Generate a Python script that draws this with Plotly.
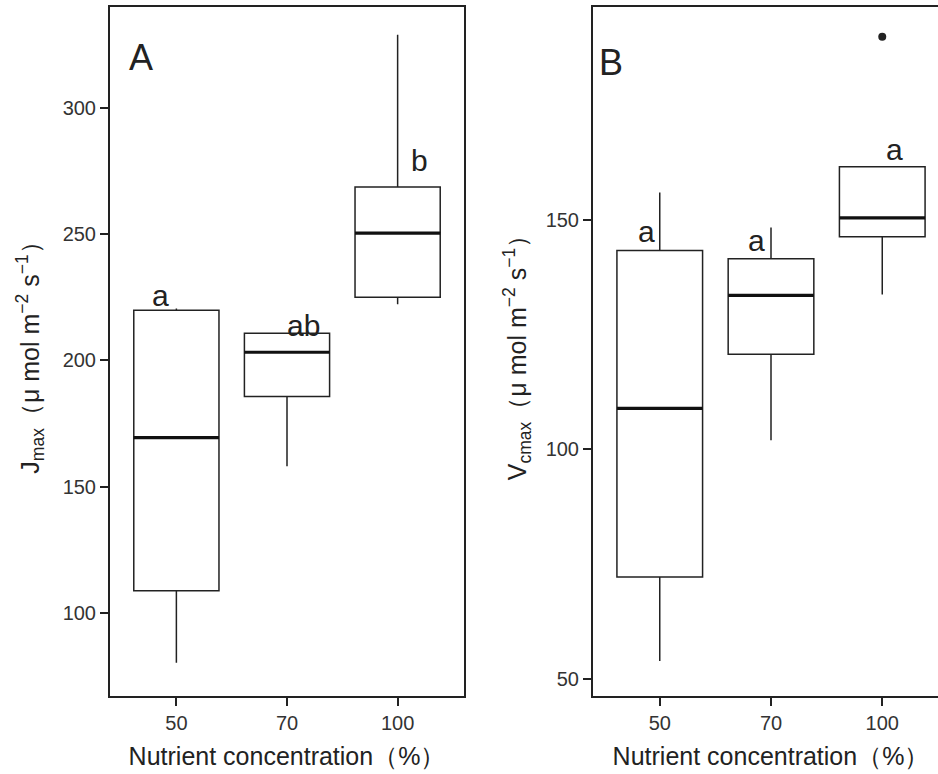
import plotly.graph_objects as go

# ---- data ----
categories = ["50", "70", "100"]
positions = [0, 1, 2]

# Panel A: Jmax
jmax_lower = [80.2, 158.0, 222.2]
jmax_q1 = [108.7, 185.7, 225.0]
jmax_median = [169.4, 203.2, 250.4]
jmax_q3 = [219.8, 210.7, 268.7]
jmax_upper = [220.5, 211.0, 329.0]
jmax_letters = ["a", "ab", "b"]
jmax_letter_x = [-0.14, 1.15, 2.2]
jmax_letter_y = [225.8, 213.9, 279.0]

# Panel B: Vcmax
vc_lower = [53.9, 102.0, 133.7]
vc_q1 = [72.2, 120.7, 146.3]
vc_median = [108.9, 133.5, 150.4]
vc_q3 = [143.3, 141.5, 161.5]
vc_upper = [155.9, 148.3, 161.5]
vc_outlier_x = [2]
vc_outlier_y = [189.8]
vc_letters = ["a", "a", "a"]
vc_letter_x = [-0.12, 0.87, 2.11]
vc_letter_y = [147.4, 145.4, 165.2]

BOX_W = 0.77
INK = "#222222"
FONT = "Arial, Liberation Sans, sans-serif"
W, H = 960, 774   # canvas slightly wider than the window: panel B is cut off at the right

fig = go.Figure()

def add_box(xa, ya, lo, q1, med, q3, up):
    fig.add_trace(go.Box(
        x=positions, lowerfence=lo, q1=q1, median=med, q3=q3, upperfence=up,
        width=BOX_W, whiskerwidth=0, fillcolor="white",
        line=dict(color=INK, width=1.5), boxpoints=False,
        xaxis=xa, yaxis=ya, showlegend=False, hoverinfo="skip"))

add_box("x", "y", jmax_lower, jmax_q1, jmax_median, jmax_q3, jmax_upper)
add_box("x2", "y2", vc_lower, vc_q1, vc_median, vc_q3, vc_upper)

fig.add_trace(go.Scatter(x=vc_outlier_x, y=vc_outlier_y, mode="markers",
                         marker=dict(color=INK, size=8), xaxis="x2", yaxis="y2",
                         showlegend=False, hoverinfo="skip"))

shapes = []
for xr, yr, meds in (("x", "y", jmax_median), ("x2", "y2", vc_median)):
    for p, m in zip(positions, meds):
        shapes.append(dict(type="line", xref=xr, yref=yr, x0=p - BOX_W / 2, x1=p + BOX_W / 2,
                           y0=m, y1=m, line=dict(color="#111111", width=3.2)))

annotations = []
for xr, yr, labs, lx, ly in (("x", "y", jmax_letters, jmax_letter_x, jmax_letter_y),
                             ("x2", "y2", vc_letters, vc_letter_x, vc_letter_y)):
    for t, xx, yy in zip(labs, lx, ly):
        annotations.append(dict(text=t, x=xx, y=yy, xref=xr, yref=yr, showarrow=False,
                                font=dict(size=30, color=INK, family=FONT)))

annotations.append(dict(text="A", x=127 / W, y=1 - 32 / H, xref="paper", yref="paper",
                        showarrow=False, font=dict(size=36, color=INK, family=FONT)))
annotations.append(dict(text="B", x=611 / W, y=1 - 37 / H, xref="paper", yref="paper",
                        showarrow=False, font=dict(size=36, color=INK, family=FONT)))

axis_common = dict(showgrid=False, zeroline=False, showline=True, linecolor=INK, linewidth=2,
                   ticks="outside", ticklen=8, tickwidth=1.5, tickcolor=INK, mirror=True,
                   tickfont=dict(size=20, color="#333333", family=FONT))

xtitle = dict(text="Nutrient concentration（%）", font=dict(size=25, color=INK, family=FONT), standoff=14)

fig.update_layout(
    width=W, height=H,
    margin=dict(l=0, r=0, t=7, b=78),
    paper_bgcolor="white", plot_bgcolor="white",
    shapes=shapes, annotations=annotations,
    xaxis=dict(domain=[110 / W, 464 / W], range=[-0.6, 2.6], tickvals=positions,
               ticktext=categories, anchor="y", title=xtitle, **axis_common),
    yaxis=dict(range=[67, 340], tickvals=[100, 150, 200, 250, 300], anchor="x",
               title=dict(text="J<sub>max</sub>（μ mol m<sup>−2</sup> s<sup>−1</sup>）",
                          font=dict(size=25, color=INK, family=FONT), standoff=16),
               **axis_common),
    xaxis2=dict(domain=[593 / W, 949 / W], range=[-0.6, 2.6], tickvals=positions,
                ticktext=categories, anchor="y2", title=xtitle, **axis_common),
    yaxis2=dict(range=[46.3, 196.3], tickvals=[50, 100, 150], anchor="x2",
                title=dict(text="V<sub>cmax</sub>（μ mol m<sup>−2</sup> s<sup>−1</sup>）",
                           font=dict(size=25, color=INK, family=FONT), standoff=12),
                **axis_common),
)

fig.write_html("out.html", config={"displayModeBar": False},
               post_script="document.body.style.margin='0';"
                           "document.body.style.overflow='hidden';"
                           "document.documentElement.style.overflow='hidden';")
